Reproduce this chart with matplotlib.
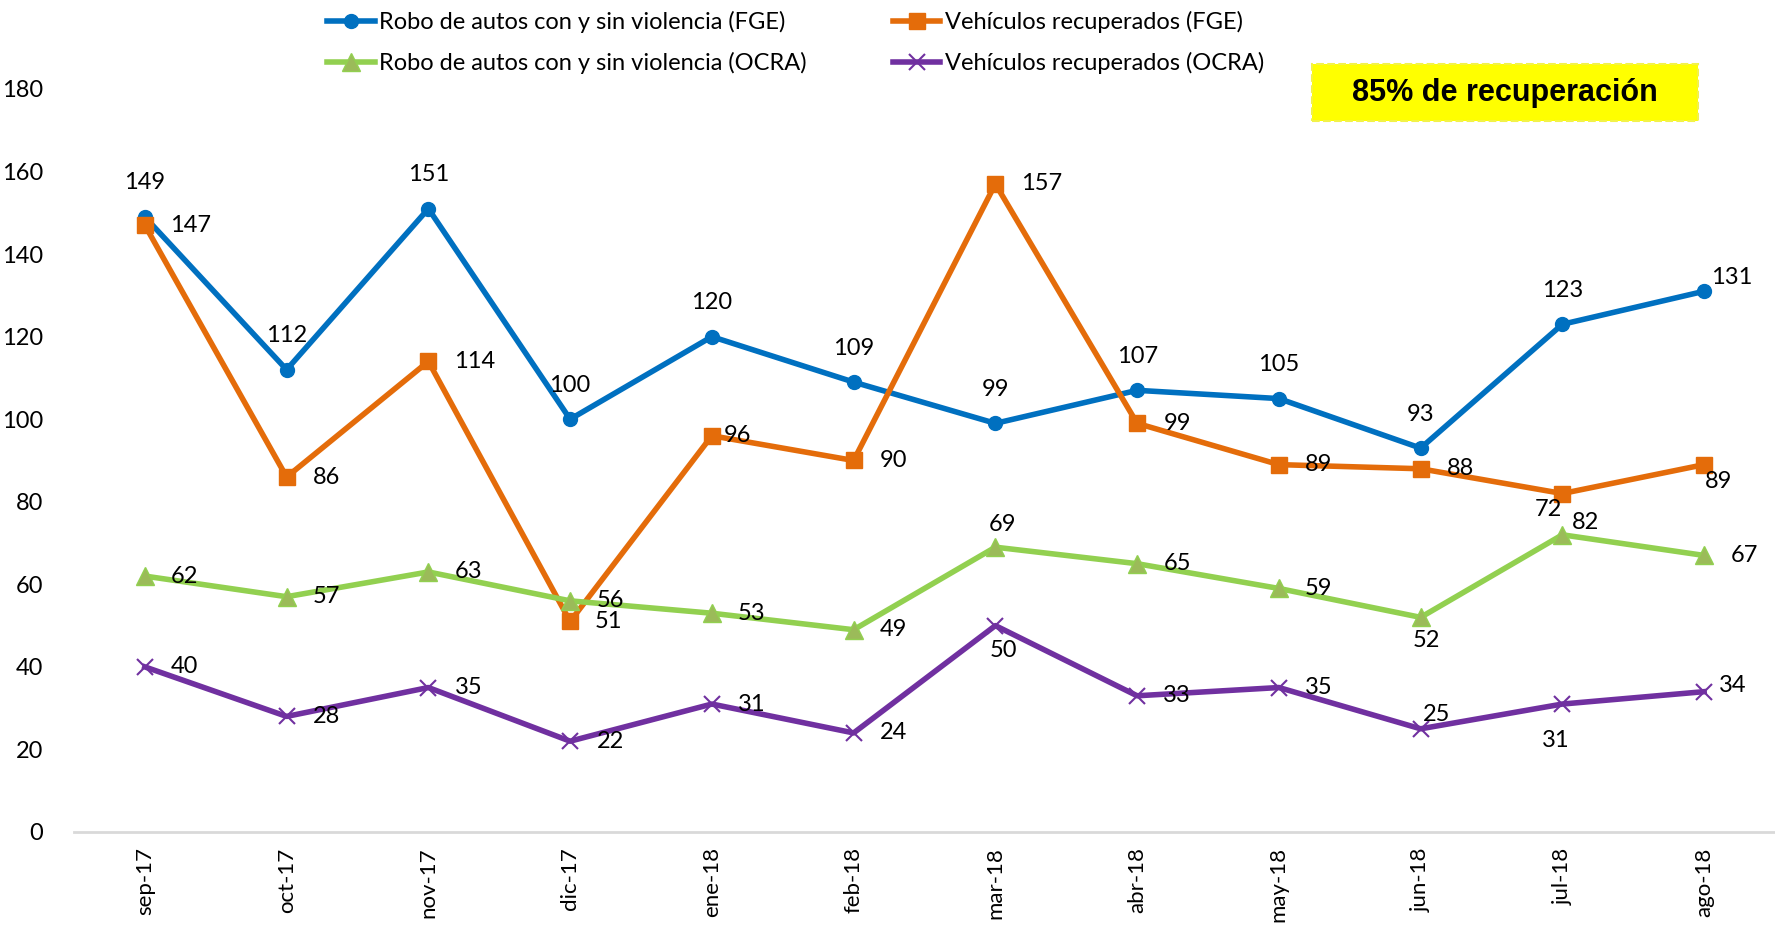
import matplotlib
matplotlib.use("Agg")
import matplotlib.pyplot as plt
from matplotlib.patches import Rectangle

months = ["sep-17", "oct-17", "nov-17", "dic-17", "ene-18", "feb-18",
          "mar-18", "abr-18", "may-18", "jun-18", "jul-18", "ago-18"]
robo_fge = [149, 112, 151, 100, 120, 109, 99, 107, 105, 93, 123, 131]
recup_fge = [147, 86, 114, 51, 96, 90, 157, 99, 89, 88, 82, 89]
robo_ocra = [62, 57, 63, 56, 53, 49, 69, 65, 59, 52, 72, 67]
recup_ocra = [40, 28, 35, 22, 31, 24, 50, 33, 35, 25, 31, 34]
series_names = ["Robo de autos con y sin violencia (FGE)",
                "Vehículos recuperados (FGE)",
                "Robo de autos con y sin violencia (OCRA)",
                "Vehículos recuperados (OCRA)"]
yticks = [0, 20, 40, 60, 80, 100, 120, 140, 160, 180]
note = "85% de recuperación"

LBL = "Lato"
FS = 17
fig = plt.figure(figsize=(17.75, 9.27), dpi=100)
ax = fig.add_axes([74/1775, 95/927, 1 - 74/1775, (832-89)/927])

x = list(range(len(months)))
styles = [
    dict(color="#0070C0", marker="o", ms=10, mfc="#0070C0", mec="#0070C0"),
    dict(color="#E46C0A", marker="s", ms=12, mfc="#E46C0A", mec="#E46C0A"),
    dict(color="#92D050", marker="^", ms=13, mfc="#9BBB59", mec="#92D050"),
    dict(color="#7030A0", marker="x", ms=12, mfc="#7030A0", mec="#7030A0", mew=1.5),
]
data = [robo_fge, recup_fge, robo_ocra, recup_ocra]
handles = []
for vals, st, name in zip(data, styles, series_names):
    ln, = ax.plot(x, vals, lw=4, label=name, zorder=3, **st)
    handles.append(ln)

# label offsets in pixels (dx, dy), positive dy up
R = (40, 0)
U = (0, 34)
offsets = [
    [U]*11 + [(28, 14)],
    [(46, 0), R, (46, 0), (38, 0), (26, 0), R, (46, 0), R, R, R, (23, -29), (14, -17)],
    [R]*6 + [(7, 23), R, R, (6, -23), (-14, 25), R],
    [R]*6 + [(8, -25), R, R, (16, 14), (-7, -36), (29, 6)],
]
for vals, offs in zip(data, offsets):
    for xi, v, (dx, dy) in zip(x, vals, offs):
        ax.annotate(str(v), (xi, v), xytext=(dx, dy), textcoords="offset pixels",
                    ha="center", va="center", fontsize=FS, family=LBL, zorder=5)

ax.set_xlim(-0.5, 11.5)
ax.set_ylim(0, 180)
ax.set_yticks(yticks)
ax.set_yticklabels([str(t) for t in yticks], family=LBL, fontsize=FS)
ax.set_xticks(x)
ax.set_xticklabels(months, rotation=90, fontsize=16, family=LBL)
ax.tick_params(axis="both", length=0)
ax.tick_params(axis="y", pad=22)
ax.tick_params(axis="x", pad=11)
for s in ["top", "right", "left"]:
    ax.spines[s].set_visible(False)
ax.spines["bottom"].set_color("#D9D9D9")
ax.spines["bottom"].set_linewidth(2)

order = [handles[0], handles[2], handles[1], handles[3]]
fig.legend(order, [h.get_label() for h in order], ncol=2, frameon=False,
           loc="upper left", bbox_to_anchor=(318/1775, 0.998),
           prop=dict(family=LBL, size=FS), handlelength=2.0, handletextpad=0.2,
           columnspacing=3.65, labelspacing=0.8, borderaxespad=0)

rect = Rectangle((1312/1775, 1 - 121/927), 386/1775, 57/927, transform=fig.transFigure,
                 facecolor="#FFFF00", edgecolor="#F2F24A", lw=1.5, ls="--", zorder=10)
fig.patches.append(rect)
fig.text(1505/1775, 1 - 93/927, note, ha="center", va="center", fontsize=22,
         fontweight="bold", family="Liberation Sans", zorder=11)

fig.savefig("out.png", dpi=100)
